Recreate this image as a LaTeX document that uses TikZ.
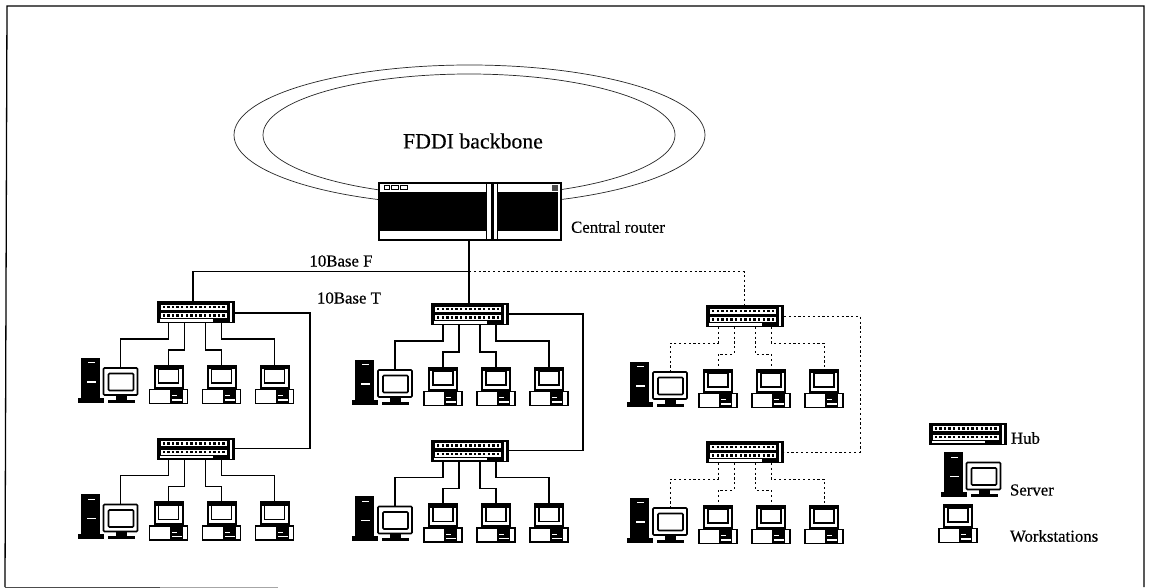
\documentclass[tikz,border=0pt]{standalone}
\usepackage{fontspec}
\setmainfont{Liberation Serif}
\newfontfamily\scanfont[FakeBold=0.4]{Liberation Serif}
\usetikzlibrary{calc,shapes.geometric}
\tikzset{
  x=1pt,y=-1pt,
  link/.style={line width=1.4pt,black},
  dots/.style={line width=1pt,black,dash pattern=on 2.2pt off 2.6pt},
  ring/.style={line width=0.7pt,black!85},
  hubbox/.style={draw=none,fill=black,minimum width=78pt,minimum height=22pt,inner sep=0pt,outer sep=0pt},
  monbox/.style={draw=black,line width=1.6pt,fill=white,rounded corners=1pt,minimum width=34pt,minimum height=27pt,inner sep=0pt,outer sep=0pt},
  wsbox/.style={draw=black,line width=2pt,fill=white,minimum width=28pt,minimum height=22pt,inner sep=0pt,outer sep=0pt},
  lbl/.style={inner sep=0pt,outer sep=0pt,font=\scanfont\fontsize{16.8}{18}\selectfont,text=black},
  wh/.style={fill=white,draw=none},
  bk/.style={fill=black,draw=none}
}
% hub: name, centre
\newcommand{\hubicon}[3]{%
  \node[hubbox] (#1) at (#2,#3) {};
  \begin{scope}[shift={(#2-39,#3-11)}]
    \fill[wh] (4,3.5) rectangle (70,8.5);
    \fill[wh] (4,12) rectangle (70,17);
    \fill[wh] (3,18) rectangle (56,20.5);
    \fill[wh] (73,2) rectangle (75,21);
    \foreach \k in {0,...,13}{
      \fill[bk] (6+4.6*\k,4.5) rectangle ++(2.4,2.6);
      \fill[bk] (6+4.6*\k,13) rectangle ++(2.4,2.6);
    }
  \end{scope}
}
% server: name, monitor centre x, monitor top y
\newcommand{\srvicon}[3]{%
  \begin{scope}[shift={(#2,#3)}]
    \fill[bk] (-40,-10) rectangle (-21,31);
    \fill[bk] (-43,30) rectangle (-17,35);
    \fill[bk] (-13,32) rectangle (14,35);
    \fill[bk] (-5,28) rectangle (6,33);
    \fill[wh] (-33,-5.5) rectangle (-26,-4.5);
    \fill[wh] (-34,13.5) rectangle (-25,15);
  \end{scope}
  \node[monbox] (#1) at (#2,#3+14) {};
  \draw[black,line width=1.6pt,rounded corners=1pt] (#2-12,#3+6) rectangle (#2+13,#3+23);
}
% workstation: name, centre x, monitor top y
\newcommand{\wsicon}[3]{%
  \node[wsbox] (#1) at (#2,#3+11.5) {};
  \begin{scope}[shift={(#2,#3)}]
    \fill[bk] (-14,0) rectangle (14,4);
    \draw[black,line width=1.5pt] (-10,4) rectangle (10,18);
    \draw[black,line width=1.8pt,fill=white] (-19,24.5) rectangle (19,38.5);
    \fill[bk] (1,24) rectangle (14,38.5);
    \fill[wh] (3,30) rectangle (8,31);
    \fill[wh] (3,34) rectangle (13,35.5);
    \fill[wh] (15,28) rectangle (18,37.5);
  \end{scope}
}
% group of a hub, server, three workstations and their links
\newcommand{\lan}[4]{%
  \hubicon{#1h}{#2}{#3}
  \srvicon{#1s}{#2-75}{#3+55.5}
  \wsicon{#1a}{#2-27}{#3+53}
  \wsicon{#1b}{#2+26}{#3+53}
  \wsicon{#1c}{#2+79}{#3+53}
  \coordinate (#1p) at (#2-27,#3+11);
  \coordinate (#1q) at (#2-11,#3+11);
  \coordinate (#1r) at (#2+10,#3+11);
  \coordinate (#1t) at (#2+26,#3+11);
  \draw[#4] (#1p) -- ++(0,16) -| (#1s.north);
  \draw[#4] (#1q) -- ++(0,27) -| (#1a.north);
  \draw[#4] (#1r) -- ++(0,27) -| (#1b.north);
  \draw[#4] (#1t) -- ++(0,16) -| (#1c.north);
}
\begin{document}
\begin{tikzpicture}
\useasboundingbox (0,0) rectangle (1153,588);
\fill[white] (0,0) rectangle (1153,588);
\draw[black,line width=1.3pt] (1144,587) -- (1144,6) -- (7,6) -- (5,587);
\draw[black!70,line width=1pt] (5,587) -- (160,587);
\draw[black!35,line width=1pt] (160,587) -- (278,587);
% ring
\node[ring,draw,ellipse,minimum width=471pt,minimum height=140pt,inner sep=0pt] (outerring) at (469.5,135) {};
\node[ring,draw,ellipse,minimum width=412pt,minimum height=122pt,inner sep=0pt] (innerring) at (469,135) {};
\node[lbl,font=\scanfont\fontsize{21.8}{24}\selectfont] (fddi) at (473,141) {FDDI backbone};
% router
\node[draw=black,line width=2pt,fill=white,minimum width=182pt,minimum height=57pt,inner sep=0pt,outer sep=0pt] (router) at (469.5,211.5) {};
\fill[bk] (380,192) rectangle (486,231);
\fill[bk] (497,192) rectangle (558,231);
\fill[bk] (490.5,183) rectangle (493.5,240);
\draw[black,line width=0.8pt] (486.5,183) -- (486.5,240) (497,183) -- (497,240);
\draw[black,line width=0.8pt] (384,185.5) rectangle (389,189) (391,185.5) rectangle (398,189) (400,185.5) rectangle (407,189);
\fill[black!70] (552,185) rectangle (558,191);
\node[lbl] (routerlabel) at (618,227) {Central router};
% LANs
\lan{A}{195.5}{312}{link}
\lan{D}{195.5}{448.5}{link}
\lan{B}{470}{314}{link}
\lan{E}{470}{450.5}{link}
\lan{C}{745}{316}{dots}
\lan{F}{745}{452}{dots}
% backbone links
\coordinate (jn) at (469,271.5);
\draw[link] (router.south -| jn) -- (jn) -- (jn |- Bh.north);
\coordinate (atop) at (193,301);
\coordinate (ctop) at (744,305);
\draw[link] (jn) -| (atop);
\draw[dots] (jn) -| (ctop);
\coordinate (abend) at (310,313);
\coordinate (bbend) at (583,314);
\coordinate (cbend) at (860,316);
\draw[link] (Ah.east) ++(0,1) -- (abend) |- (Dh.east);
\draw[link] (Bh.east) -- (bbend) |- (Eh.east);
\draw[dots] (Ch.east) -- (cbend) |- (Fh.east);
\node[lbl] (tenF) at (341,261) {10Base F};
\node[lbl] (tenT) at (349,298) {10Base T};
% legend
\hubicon{Lh}{967.5}{433.5}
\srvicon{Ls}{983.5}{462}
\wsicon{Lw}{958}{504}
\node[lbl,anchor=west] (lhub) at (1011,438) {Hub};
\node[lbl,anchor=west] (lsrv) at (1010,490) {Server};
\node[lbl,anchor=west] (lws) at (1010,536) {Workstations};
\end{tikzpicture}
\end{document}
